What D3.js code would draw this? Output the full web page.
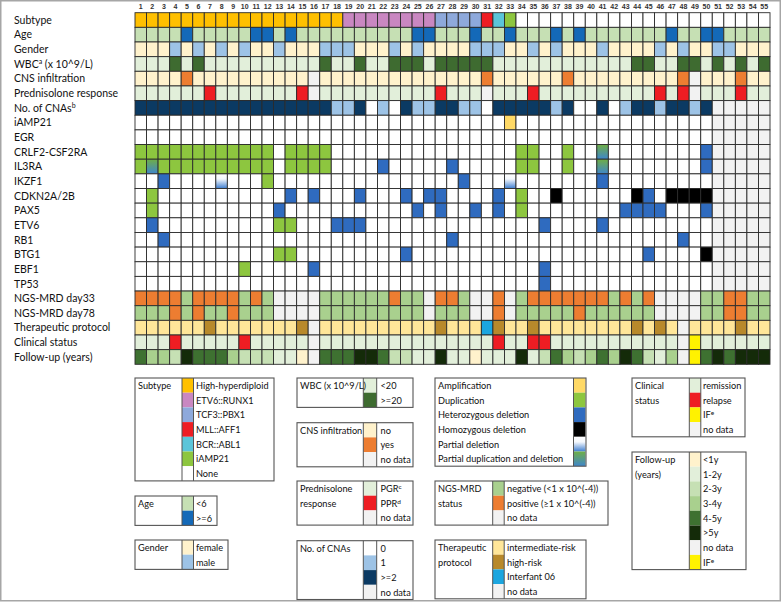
<!DOCTYPE html>
<html><head><meta charset="utf-8">
<script src="https://cdn.jsdelivr.net/npm/d3@7"></script>
<style>
body{margin:0;background:#fff;}
svg{display:block;font-family:Lato,"Liberation Sans",sans-serif;}
</style></head><body>
<svg id="chart" width="783" height="609"></svg>
<script>
// ---------------- DATA ----------------
const patients = d3.range(1, 56);
const rowNames = ["Subtype","Age","Gender","WBC{a} (x 10^9/L)","CNS infiltration","Prednisolone response","No. of CNAs{b}","iAMP21","EGR","CRLF2-CSF2RA","IL3RA","IKZF1","CDKN2A/2B","PAX5","ETV6","RB1","BTG1","EBF1","TP53","NGS-MRD day33","NGS-MRD day78","Therapeutic protocol","Clinical status","Follow-up (years)"];

// one code per patient (1..55), grouped by tens
const subtype   = "HHHHHHHHHH HHHHHHHHEE EEEEEETTTT MBINNNNNNN NNNNNNNNNN NNNNN";
const age       = "LLLLHLLLLL HHLHLLLLLL LLLLHHLLLH LLHLLLHLHL LLLLLLHLLH HLLLL";
const gender    = "FFFMFMFMFM FFMFFFMMMF FFMFMFFFFM MMFFMFMFFF MFFFFMFMFF MMFFF";
const wbc       = "LLLHLHLLLL LLLLLLHLLH LLHHHLHHHH HLLLLLLLLL LLLHHLLHHL HLHLH";
const cns       = "NNNNYNNNNN NNNNNXNNNN NNNNNNNNNN YNNNNNNYNN NNNNNNNYXN NNYNN";
const pred      = "GGGGGGPGGG GGGGPXGGGG GGGGGGPGGG XGGGPGGGGG GGGGGPGPXG GGPGG";
const cnaCount  = "2222222222 2222222112 0102112211 0222221200 2012212212 XXXXX";
const iAMP21    = "0000000000 0000000000 0000000000 00A0000000 0000000000 XXXXX";
const egr       = "0000000000 0000000000 0000000000 0000000000 0000000000 XXXXX";
const crlf2     = "DDDDDDDDDD DD0DDDD000 0000000000 000DD00D00 Q00000000H XXXXX";
const il3ra     = "DQDDDDDDDD DD0DDDD000 0H00000H00 000DD00D00 Q00000000H XXXXX";
const ikzf1     = "00H0000P00 0D00000000 00000000H0 00P0000000 H000000000 XXXXX";
const cdkn2a    = "0D00000000 000H0H000H 000H0HH000 0H0D00O000 000OH0OOOO XXXXX";
const pax5      = "0D00000000 00H0000000 0000H0H00H 0H0D000000 00HHHH000H XXXXX";
const etv6      = "0H00000000 00DD000HHH 0000000000 00000H0000 H000000000 XXXXX";
const rb1       = "00H0000000 0000000000 0000000H00 0000000000 0000000H00 XXXXX";
const btg1      = "0000000000 00DD000000 000H000000 0000000000 0000H0000O XXXXX";
const ebf1      = "000000000D 00000H0000 0000000000 00000H0000 0000000000 XXXXX";
const tp53      = "0000000000 0000000000 0000000000 00000H0000 0000000000 XXXXX";
const mrd33     = "PPPPNPPPPN PNXXXXNNNN NNPNNXPPNX XPXNPPPPPP PNPNPXXXXN NPPNN";
const mrd78     = "NNNPNPNNPN NNXXXXNNNN NNNNNXNNNX XPXNNNNNPN NNNNNXXXXN NPPNN";
const protocol  = "IIIIIIHIII IIIIHXIIII IIIIIIHIII FHIIHIIIII IIIHIHIXII IIHII";
const clinical  = "RRRLRRRRRL RRRRRXRRRR RRRRRRRRRR RLRRLLRRRR RRRRRRRXFR RRRRR";
const followUp  = "4332544432 22110X4445 5422115110 1115124323 4354213XF4 54555";

// ---------------- COLOURS ----------------
const ND = "#F2F2F2";
const cSubtype = {H:"#FFC000",E:"#C987C1",T:"#8EA9DB",M:"#EE1D23",B:"#5BC5D9",I:"#8DC63F",N:"#FFFFFF"};
const cAge = {L:"#C6E0B4",H:"#1469B8"};
const cGender = {F:"#FFF2CC",M:"#9DC3E6"};
const cWbc = {L:"#E2EFDA",H:"#3E6B30"};
const cCns = {N:"#FFF2CC",Y:"#ED7D31",X:ND};
const cPred = {G:"#E2EFDA",P:"#EE1D23",X:ND};
const cCna = {"0":"#FFFFFF","1":"#9DC3E6","2":"#0B3A63",X:ND};
const cGene = {"0":"#FFFFFF",A:"#FFD966",D:"#8DC63F",H:"#2F6BBF",O:"#000000",P:"url(#gPartDel)",Q:"url(#gPartDupDel)",X:ND};
const cMrd = {N:"#A9D08E",P:"#ED7D31",X:ND};
const cProt = {I:"#FFE699",H:"#B8892B",F:"#1BA6E0",X:ND};
const cClin = {R:"#E2EFDA",L:"#EE1D23",F:"#FFF200",X:ND};
const cFollow = {"0":"#FFF2CC","1":"#E2EFDA","2":"#C6E0B4","3":"#A9D08E","4":"#3E7131","5":"#142B09",X:ND,F:"#FFF200"};

const rowData = [subtype,age,gender,wbc,cns,pred,cnaCount,iAMP21,egr,crlf2,il3ra,ikzf1,cdkn2a,pax5,etv6,rb1,btg1,ebf1,tp53,mrd33,mrd78,protocol,clinical,followUp];
const rowColors = [cSubtype,cAge,cGender,cWbc,cCns,cPred,cCna,cGene,cGene,cGene,cGene,cGene,cGene,cGene,cGene,cGene,cGene,cGene,cGene,cMrd,cMrd,cProt,cClin,cFollow];

// ---------------- DRAW ----------------
const svg = d3.select("#chart");
const defs = svg.append("defs");
const g1 = defs.append("linearGradient").attr("id","gPartDel").attr("x1",0).attr("y1",0).attr("x2",0).attr("y2",1);
g1.append("stop").attr("offset","0%").attr("stop-color","#FFFFFF");
g1.append("stop").attr("offset","35%").attr("stop-color","#F4F8FD");
g1.append("stop").attr("offset","100%").attr("stop-color","#3F7ECF");
const g2 = defs.append("linearGradient").attr("id","gPartDupDel").attr("x1",0).attr("y1",0).attr("x2",0).attr("y2",1);
g2.append("stop").attr("offset","0%").attr("stop-color","#6FAE45");
g2.append("stop").attr("offset","100%").attr("stop-color","#3E86CC");

// outer frame
svg.append("rect").attr("x",0.75).attr("y",0.75).attr("width",779.5).attr("height",600)
  .attr("fill","none").attr("stroke","#A6A6A6").attr("stroke-width",1.5);

const x = d3.scaleBand().domain(patients).range([135, 770]);
const y = d3.scaleBand().domain(rowNames).range([12.7, 364.3]);

function richText(sel, str, supSize){
  const parts = str.split(/(\{[^}]*\})/);
  parts.forEach(p=>{
    if(!p) return;
    if(p.startsWith("{")){
      sel.append("tspan").attr("baseline-shift","super").attr("font-size",supSize).text(p.slice(1,-1));
    } else sel.append("tspan").text(p);
  });
}

// column numbers
svg.append("g").selectAll("text").data(patients).join("text")
  .attr("x", d=>x(d)+x.bandwidth()/2).attr("y", 9)
  .attr("text-anchor","middle").attr("font-size","7px").attr("font-weight","bold")
  .attr("fill","#333").attr("font-family","'Liberation Sans',Arial,sans-serif")
  .text(d=>d);

// cells
rowNames.forEach((rn,i)=>{
  const codes = rowData[i].replace(/ /g,"").split("");
  const cols = rowColors[i];
  svg.append("g").selectAll("rect").data(codes.map((c,j)=>({p:patients[j],c}))).join("rect")
    .attr("x", d=>x(d.p)).attr("y", y(rn))
    .attr("width", x.bandwidth()).attr("height", y.bandwidth())
    .attr("fill", d=>cols[d.c]).attr("stroke","#2b2b2b").attr("stroke-width",0.9);
  const t = svg.append("text").attr("x",14).attr("y", y(rn)+y.bandwidth()/2+3.8)
    .attr("font-size","10.5px").attr("fill","#111");
  richText(t, rn, "7px");
});

// ---------------- LEGEND ----------------
const LH = 14.7;
const LFS = "9.2px";
const legendBoxes = [
 {x:135,y:378,w:139,sx:182,sw:11.5,tx:196,lines:["Subtype"],items:[[cSubtype.H,"High-hyperdiploid"],[cSubtype.E,"ETV6::RUNX1"],[cSubtype.T,"TCF3::PBX1"],[cSubtype.M,"MLL::AFF1"],[cSubtype.B,"BCR::ABL1"],[cSubtype.I,"iAMP21"],[cSubtype.N,"None"]]},
 {x:135,y:496,w:82,sx:182,sw:11.5,tx:196,lines:["Age"],items:[[cAge.L,"<6"],[cAge.H,">=6"]]},
 {x:135,y:540,w:93,sx:182,sw:11.5,tx:196,lines:["Gender"],items:[[cGender.F,"female"],[cGender.M,"male"]]},
 {x:297,y:378,w:116,sx:363.3,sw:13.4,tx:380.5,lines:["WBC (x 10^9/L)"],items:[[cWbc.L,"<20"],[cWbc.H,">=20"]]},
 {x:297,y:422.7,w:116,sx:363.3,sw:13.4,tx:380.5,lines:["CNS infiltration"],items:[[cCns.N,"no"],[cCns.Y,"yes"],[ND,"no data"]]},
 {x:297,y:481,w:116,sx:363.3,sw:13.4,tx:380.5,lines:["Prednisolone","response"],items:[[cPred.G,"PGR{c}"],[cPred.P,"PPR{d}"],[ND,"no data"]]},
 {x:297,y:540.7,w:116,sx:363.3,sw:13.4,tx:380.5,lines:["No. of CNAs"],items:[[cCna["0"],"0"],[cCna["1"],"1"],[cCna["2"],">=2"],[ND,"no data"]]},
 {x:435,y:378,w:151,sx:573.5,sw:12,tx:438,left:true,lines:[],items:[[cGene.A,"Amplification"],[cGene.D,"Duplication"],[cGene.H,"Heterozygous deletion"],[cGene.O,"Homozygous deletion"],[cGene.P,"Partial deletion"],[cGene.Q,"Partial duplication and deletion"]]},
 {x:435,y:481,w:173,sx:492.7,sw:11.5,tx:507,lines:["NGS-MRD","status"],items:[[cMrd.N,"negative (<1 x 10^(-4))"],[cMrd.P,"positive (\u22651 x 10^(-4))"],[ND,"no data"]]},
 {x:435,y:540,w:151,sx:492.7,sw:11.5,tx:507,lines:["Therapeutic","protocol"],items:[[cProt.I,"intermediate-risk"],[cProt.H,"high-risk"],[cProt.F,"Interfant 06"],[ND,"no data"]]},
 {x:632,y:378,w:113,sx:689.3,sw:11.5,tx:703,lines:["Clinical","status"],items:[[cClin.R,"remission"],[cClin.L,"relapse"],[cClin.F,"IF{e}"],[ND,"no data"]]},
 {x:632,y:452,w:114,sx:689.3,sw:11.5,tx:703,lines:["Follow-up","(years)"],items:[[cFollow["0"],"<1y"],[cFollow["1"],"1-2y"],[cFollow["2"],"2-3y"],[cFollow["3"],"3-4y"],[cFollow["4"],"4-5y"],[cFollow["5"],">5y"],[ND,"no data"],[cFollow.F,"IF{e}"]]}
];

legendBoxes.forEach(b=>{
  const g = svg.append("g");
  const h = b.items.length*LH;
  b.items.forEach((it,k)=>{
    g.append("rect").attr("x",b.sx).attr("y",b.y+k*LH).attr("width",b.sw).attr("height",LH).attr("fill",it[0]);
    const t = g.append("text").attr("x",b.tx).attr("y",b.y+k*LH+LH/2+3.5)
      .attr("font-size",LFS).attr("fill","#111");
    richText(t,it[1],"6.5px");
  });
  g.append("rect").attr("x",b.x).attr("y",b.y).attr("width",b.w).attr("height",h)
    .attr("fill","none").attr("stroke","#555").attr("stroke-width",1.1);
  g.append("line").attr("x1",b.sx).attr("x2",b.sx).attr("y1",b.y).attr("y2",b.y+h).attr("stroke","#555").attr("stroke-width",1);
  if(!b.left) g.append("line").attr("x1",b.sx+b.sw).attr("x2",b.sx+b.sw).attr("y1",b.y).attr("y2",b.y+h).attr("stroke","#555").attr("stroke-width",1);
  b.lines.forEach((ln,k)=>{
    g.append("text").attr("x",b.x+3).attr("y",b.y+k*LH+LH/2+3.5).attr("font-size",LFS).attr("fill","#111").text(ln);
  });
});
</script>
</body></html>
